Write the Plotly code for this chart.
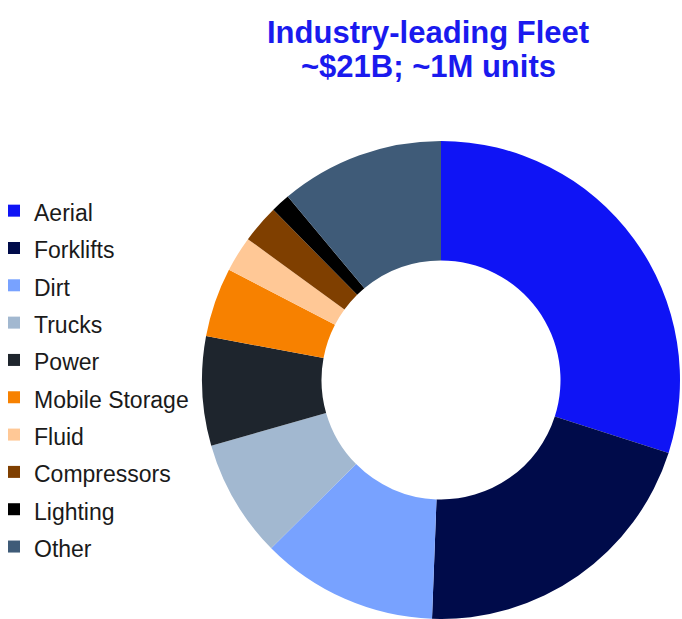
import plotly.graph_objects as go

labels = ["Aerial", "Forklifts", "Dirt", "Trucks", "Power", "Mobile Storage",
          "Fluid", "Compressors", "Lighting", "Other"]
values = [30.0, 20.7, 12.0, 8.0, 7.4, 4.7, 2.4, 2.6, 1.3, 11.1]
colors = ["#0F14F5", "#000B4A", "#78A2FF", "#A2B8D0", "#1E252D", "#F78100",
          "#FFC896", "#7F3F00", "#000000", "#3F5B78"]
title_lines = ["Industry-leading Fleet", "~$21B; ~1M units"]

W, H = 682, 619
cx, cy, r = 441, 380, 239

legend_labels = ['<span style="font-size:23px">%s</span>' % l for l in labels]

fig = go.Figure(go.Pie(
    labels=legend_labels,
    values=values,
    marker=dict(colors=colors, line=dict(width=0)),
    hole=0.5,
    sort=False,
    direction="clockwise",
    rotation=0,
    textinfo="none",
    hoverinfo="label+percent",
    domain=dict(x=[(cx - r) / W, (cx + r) / W], y=[(H - cy - r) / H, (H - cy + r) / H]),
))

fig.update_layout(
    width=W, height=H,
    margin=dict(l=0, r=0, t=0, b=0, autoexpand=False),
    paper_bgcolor="white",
    plot_bgcolor="white",
    font=dict(family="Liberation Sans, Arial, sans-serif", color="#1a1a1a"),
    showlegend=True,
    legend=dict(
        xref="paper", yref="paper",
        x=-6 / W, y=1 - 187 / H, xanchor="left", yanchor="top",
        font=dict(size=26.4, color="#1a1a1a"),
        traceorder="normal",
        bgcolor="rgba(0,0,0,0)",
    ),
    annotations=[
        dict(text="<b>%s</b>" % title_lines[0], xref="paper", yref="paper",
             x=428 / W, y=1 - 32 / H, xanchor="center", yanchor="middle",
             showarrow=False, font=dict(size=31, color="#1A1AEE")),
        dict(text="<b>%s</b>" % title_lines[1], xref="paper", yref="paper",
             x=428 / W, y=1 - 66 / H, xanchor="center", yanchor="middle",
             showarrow=False, font=dict(size=31, color="#1A1AEE")),
    ],
)

fig.write_html("out.html")
